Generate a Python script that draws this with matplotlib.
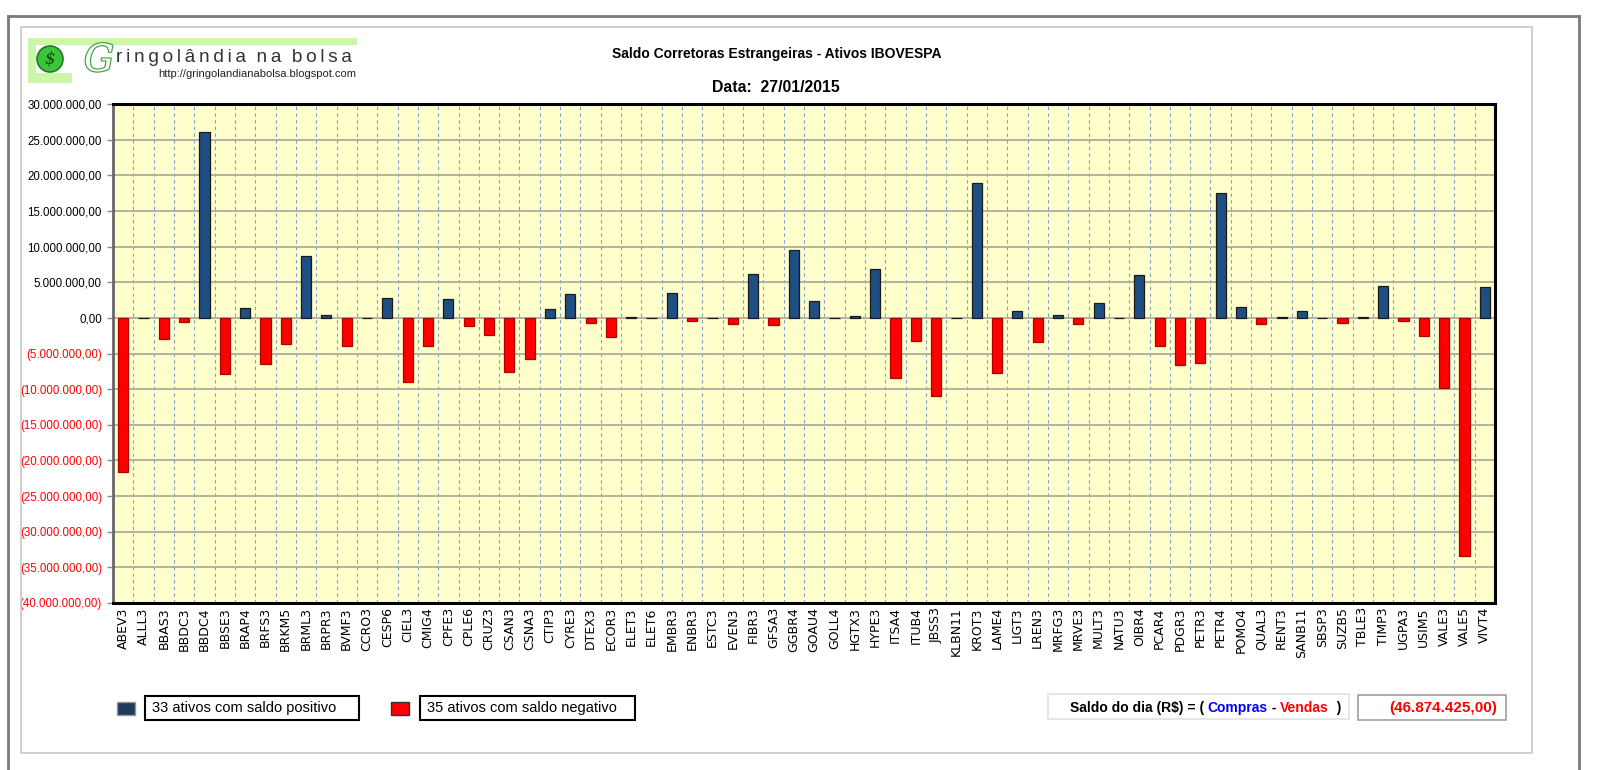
import numpy as np
import matplotlib
matplotlib.use("Agg")
import matplotlib.pyplot as plt
import matplotlib.patheffects as pe
from matplotlib.patches import Rectangle, Ellipse
from matplotlib.lines import Line2D

# tickers (IBOVESPA) and daily net balance of foreign brokers, in R$ millions
tickers = [
    "ABEV3", "ALLL3", "BBAS3", "BBDC3", "BBDC4", "BBSE3", "BRAP4", "BRFS3",
    "BRKM5", "BRML3", "BRPR3", "BVMF3", "CCRO3", "CESP6", "CIEL3", "CMIG4",
    "CPFE3", "CPLE6", "CRUZ3", "CSAN3", "CSNA3", "CTIP3", "CYRE3", "DTEX3",
    "ECOR3", "ELET3", "ELET6", "EMBR3", "ENBR3", "ESTC3", "EVEN3", "FIBR3",
    "GFSA3", "GGBR4", "GOAU4", "GOLL4", "HGTX3", "HYPE3", "ITSA4", "ITUB4",
    "JBSS3", "KLBN11", "KROT3", "LAME4", "LIGT3", "LREN3", "MRFG3", "MRVE3",
    "MULT3", "NATU3", "OIBR4", "PCAR4", "PDGR3", "PETR3", "PETR4", "POMO4",
    "QUAL3", "RENT3", "SANB11", "SBSP3", "SUZB5", "TBLE3", "TIMP3", "UGPA3",
    "USIM5", "VALE3", "VALE5", "VIVT4",
]
saldo_mi = [
    -21.6, 0.05, -2.9, -0.65, 26.1, -7.85, 1.4, -6.45,
    -3.65, 8.7, 0.4, -3.9, 0.05, 2.8, -9.0, -3.9,
    2.6, -1.1, -2.35, -7.65, -5.8, 1.3, 3.4, -0.75,
    -2.7, 0.15, 0.05, 3.45, -0.45, 0.05, -0.85, 6.15,
    -1.0, 9.45, 2.35, 0.05, 0.25, 6.9, -8.5, -3.2,
    -10.95, 0.0, 18.9, -7.75, 0.93, -3.35, 0.37, -0.85,
    2.06, 0.05, 6.07, -4.0, -6.65, -6.35, 17.5, 1.5,
    -0.85, 0.1, 1.03, 0.0, -0.75, 0.1, 4.4, -0.4,
    -2.6, -9.9, -33.4, 4.3,
]
saldo_dia = -46874425.00
y_ticks = np.arange(-40, 31, 5) * 1e6

vals = np.array(saldo_mi) * 1e6
n_pos = int((vals > 0).sum())
n_neg = len(vals) - n_pos

W, H = 1600, 770
NARROW = ["Liberation Sans Narrow", "Liberation Sans", "DejaVu Sans"]
ARIAL = ["Liberation Sans", "DejaVu Sans"]


def fx(x):
    return x / W


def fy(y):
    return 1 - y / H


def brl(v):
    s = f"{abs(v):,.2f}".replace(",", "X").replace(".", ",").replace("X", ".")
    return f"({s})" if v < 0 else s


fig = plt.figure(figsize=(16, 7.7), dpi=100)
fig.patch.set_facecolor("white")

# outer and inner frames
for (x0, y0, x1, y1) in [(8, 16, 1579, 16), (8, 16, 8, 770), (1579, 16, 1579, 770)]:
    fig.add_artist(Line2D([fx(x0), fx(x1)], [fy(y0), fy(y1)], color="#7a7a7a", lw=2))
fig.add_artist(Rectangle((fx(21), fy(753)), fx(1532 - 21), (753 - 27) / H,
                         fill=False, edgecolor="#c8c8c8", lw=1.2))

# logo
green = "#cdf7a8"
fig.add_artist(Rectangle((fx(28), fy(45)), fx(357 - 28), 7 / H, color=green, lw=0))
fig.add_artist(Rectangle((fx(28), fy(83)), fx(8), 45 / H, color=green, lw=0))
fig.add_artist(Rectangle((fx(28), fy(83)), fx(44), 10 / H, color=green, lw=0))
fig.add_artist(Ellipse((fx(50), fy(59)), fx(26), 26 / H, transform=fig.transFigure,
                       facecolor="#3cc43c", edgecolor="#1d7d1d", lw=1.2))
fig.text(fx(50), fy(59), "$", color="#0c4d0c", fontsize=12, style="italic",
         ha="center", va="center", family="DejaVu Serif")
fig.text(fx(84), fy(61), "G", color="#f4fff0", fontsize=27, style="italic",
         ha="left", va="center", family="DejaVu Serif",
         path_effects=[pe.withStroke(linewidth=1.6, foreground="#3a9a3a")])
thin = "\u2009"
fig.text(fx(116), fy(58), thin.join("ringolândia") + "  " + thin.join("na") + "  "
         + thin.join("bolsa"), color="#333333", fontsize=13.7, ha="left",
         va="center", family=ARIAL)
fig.text(fx(356), fy(74), "http://gringolandianabolsa.blogspot.com", color="#222222",
         fontsize=8, ha="right", va="center", family=NARROW)

# titles
fig.text(fx(777), fy(54), "Saldo Corretoras Estrangeiras - Ativos IBOVESPA",
         fontsize=10, fontweight="bold", ha="center", va="center", family=ARIAL)
fig.text(fx(776), fy(88), "Data:  27/01/2015", fontsize=11.4, fontweight="bold",
         ha="center", va="center", family=ARIAL)

# main chart
ax = fig.add_axes([fx(113), fy(603), fx(1495 - 113), (603 - 104) / H])
ax.set_facecolor("#ffffcc")
x = np.arange(len(tickers))
colors = ["#1f4e85" if v > 0 else "#ff0000" for v in vals]
edges = ["#1a1a1a" if v >= 0 else "#b00000" for v in vals]
ax.bar(x, vals, width=0.5, color=colors, edgecolor=edges, linewidth=0.9, zorder=3)

ax.set_xlim(-0.5, len(tickers) - 0.5)
ax.set_ylim(-40e6, 30e6)
ax.set_yticks(y_ticks)
ax.set_yticklabels([brl(v) for v in y_ticks], family=NARROW, fontsize=8.3)
for lab, v in zip(ax.get_yticklabels(), y_ticks):
    lab.set_color("#ff0000" if v < 0 else "#000000")
ax.set_xticks(x)
ax.set_xticklabels(tickers, rotation=90, fontsize=9, family="DejaVu Sans")
ax.set_xticks(np.arange(-0.5, len(tickers), 1), minor=True)
ax.tick_params(axis="x", which="both", length=0, pad=3)
ax.tick_params(axis="y", length=4, width=1, color="#888888", pad=4)
ax.grid(axis="y", color="#acac9c", lw=1.3, zorder=1)
ax.grid(axis="x", which="minor", color="#7f9fd0", lw=0.8, ls=(0, (3, 3)), zorder=1)
ax.grid(axis="x", which="major", visible=False)
for side in ["top", "right", "bottom"]:
    ax.spines[side].set_color("black")
    ax.spines[side].set_linewidth(2.2)
ax.spines["left"].set_color("#666666")
ax.spines["left"].set_linewidth(2)

# legend boxes
fig.add_artist(Rectangle((fx(117), fy(715)), fx(18), 13 / H, facecolor="#1f3b5a",
                         edgecolor="#8899aa", lw=1))
fig.add_artist(Rectangle((fx(145), fy(720)), fx(214), 24 / H, fill=False,
                         edgecolor="black", lw=1.5))
fig.text(fx(152), fy(708), f"{n_pos} ativos com saldo positivo", fontsize=10.5,
         ha="left", va="center", family=NARROW)
fig.add_artist(Rectangle((fx(391), fy(715)), fx(18), 13 / H, facecolor="#ff0000",
                         edgecolor="#333333", lw=1))
fig.add_artist(Rectangle((fx(420), fy(720)), fx(215), 24 / H, fill=False,
                         edgecolor="black", lw=1.5))
fig.text(fx(427), fy(708), f"{n_neg} ativos com saldo negativo", fontsize=10.5,
         ha="left", va="center", family=NARROW)

# daily balance
fig.add_artist(Rectangle((fx(1048), fy(719)), fx(301), 25 / H, fill=False,
                         edgecolor="#e2e2e2", lw=1.2))
parts = [("Saldo do dia (R$) = ( ", "black"), ("Compras", "#0000ff"), (" - ", "black"),
         ("Vendas", "#ff0000"), ("  )", "black")]
fig.canvas.draw()
r = fig.canvas.get_renderer()
cur = fx(1341)
for txt, col in reversed(parts):
    t = fig.text(cur, fy(708), txt, color=col, fontsize=10, fontweight="bold",
                 ha="right", va="center", family=NARROW)
    bb = t.get_window_extent(renderer=r)
    cur -= bb.width / W
fig.add_artist(Rectangle((fx(1358), fy(720)), fx(148), 25 / H, fill=False,
                         edgecolor="#a0a0a0", lw=1.2))
fig.text(fx(1497), fy(708), brl(saldo_dia), color="#ff0000", fontsize=11,
         fontweight="bold", ha="right", va="center", family=NARROW)

fig.savefig("out.png", dpi=100, facecolor="white")
